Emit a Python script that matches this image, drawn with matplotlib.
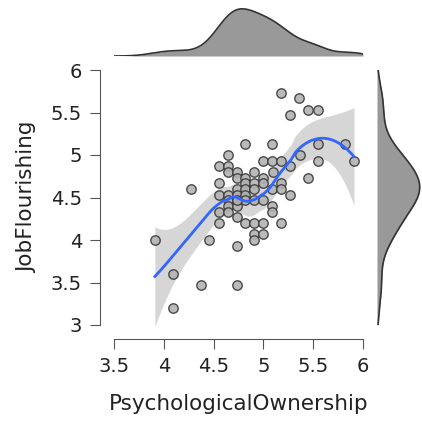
import numpy as np
import matplotlib
matplotlib.use('Agg')
import matplotlib.pyplot as plt

# scatter data
po = [5.18, 5.36, 5.27, 5.45, 5.55, 4.82, 5.09, 5.55, 5.82, 4.64,
      5.37, 5.00, 5.09, 5.18, 5.55, 5.91, 4.55, 4.64, 5.27, 4.64,
      4.73, 4.91, 5.10, 4.73, 4.82, 5.00, 5.45, 4.27, 4.55, 4.82,
      4.91, 5.00, 5.18, 4.73, 4.82, 5.09, 5.18, 5.27, 4.55, 4.64,
      4.73, 4.82, 4.91, 4.64, 4.82, 4.91, 5.00, 4.64, 4.73, 5.09,
      4.55, 4.64, 5.09, 4.73, 4.55, 4.82, 4.91, 5.00, 5.18, 4.91,
      5.00, 4.91, 3.91, 4.45, 4.73, 4.09, 4.37, 4.73, 4.09, 4.73]
jf = [5.73, 5.67, 5.47, 5.53, 5.53, 5.13, 5.13, 5.13, 5.13, 5.00,
      5.00, 4.93, 4.93, 4.93, 4.93, 4.93, 4.87, 4.87, 4.87, 4.80,
      4.80, 4.80, 4.80, 4.73, 4.73, 4.73, 4.73, 4.60, 4.67, 4.67,
      4.67, 4.67, 4.67, 4.60, 4.60, 4.60, 4.60, 4.53, 4.53, 4.53,
      4.53, 4.53, 4.60, 4.47, 4.47, 4.47, 4.47, 4.40, 4.40, 4.40,
      4.33, 4.33, 4.33, 4.27, 4.20, 4.20, 4.20, 4.20, 4.20, 4.07,
      4.07, 4.00, 4.00, 4.00, 3.93, 3.60, 3.47, 3.47, 3.20, 4.47]

x_ticks = [3.5, 4, 4.5, 5, 5.5, 6]
y_ticks = [3, 3.5, 4, 4.5, 5, 5.5, 6]
x_label = 'PsychologicalOwnership'
y_label = 'JobFlourishing'

x = np.array(po)
y = np.array(jf)


def loess(x, y, xg, span=0.75):
    n = len(x)
    q = int(np.floor(span * n))

    def weights_row(x0):
        d = np.abs(x - x0)
        h = np.sort(d)[q - 1]
        w = np.clip(1 - (d / h) ** 3, 0, None) ** 3
        X = np.column_stack([np.ones(n), x - x0, (x - x0) ** 2])
        XtW = X.T * w
        return np.linalg.pinv(XtW @ X)[0] @ XtW

    L = np.array([weights_row(v) for v in x])
    res = y - L @ y
    M = np.eye(n) - L
    delta1 = np.trace(M.T @ M)
    sigma = np.sqrt(np.sum(res ** 2) / delta1)
    Lg = np.array([weights_row(v) for v in xg])
    fit = Lg @ y
    se = sigma * np.sqrt(np.sum(Lg ** 2, axis=1))
    return fit, se


def kde(v, grid, adjust=1.0):
    v = np.asarray(v)
    sd = v.std(ddof=1)
    iqr = np.subtract(*np.percentile(v, [75, 25]))
    bw = adjust * 0.9 * min(sd, iqr / 1.34) * len(v) ** -0.2
    z = (grid[:, None] - v[None, :]) / bw
    return np.exp(-0.5 * z ** 2).sum(axis=1) / (len(v) * bw * np.sqrt(2 * np.pi))


fig = plt.figure(figsize=(4.22, 4.25), dpi=100)
W, H = 422, 425

ax = fig.add_axes([114 / W, 1 - 325 / H, 249 / W, 255 / H])
xg = np.linspace(x.min(), x.max(), 200)
fit, se = loess(x, y, xg)
ax.fill_between(xg, fit - 2.0 * se, fit + 2.0 * se, color='#d6d6d6', lw=0, zorder=1)
ax.scatter(x, y, s=46, facecolor='#b3b3b3', edgecolor='#3a3a3a', linewidth=1.0,
           alpha=0.9, zorder=2)
ax.plot(xg, fit, color='#3366ff', lw=2, zorder=3)

ax.set_xlim(3.5, 6)
ax.set_ylim(3, 6)
ax.set_xticks(x_ticks)
ax.set_xticklabels(['3.5', '4', '4.5', '5', '5.5', '6'])
ax.set_yticks(y_ticks)
ax.set_yticklabels(['3', '3.5', '4', '4.5', '5', '5.5', '6'])
for s in ['top', 'right']:
    ax.spines[s].set_visible(False)
ax.spines['left'].set_position(('outward', 10))
ax.spines['bottom'].set_position(('outward', 10))
for s in ['left', 'bottom']:
    ax.spines[s].set_color('#555555')
    ax.spines[s].set_linewidth(0.8)
ax.tick_params(colors='#555555', labelcolor='#222222', labelsize=14,
               length=7, width=0.8, pad=6)
ax.set_xlabel(x_label, fontsize=15.5, color='#222222', labelpad=13)
ax.set_ylabel(y_label, fontsize=15.5, color='#222222', labelpad=10)

# top marginal density
axt = fig.add_axes([114 / W, 1 - 56 / H, 249 / W, 50 / H])
gx = np.linspace(3.5, 6, 300)
dx = kde(x, gx, adjust=1.05)
axt.fill_between(gx, 0, dx, color='#999999', lw=0)
axt.plot(gx, dx, color='#333333', lw=1.2)
axt.set_xlim(3.5, 6)
axt.set_ylim(0, dx.max() * 1.06)
axt.axis('off')

# right marginal density
axr = fig.add_axes([377 / W, 1 - 325 / H, 44 / W, 255 / H])
gy = np.linspace(3, 6, 300)
dy = kde(y, gy, adjust=1.35)
axr.fill_betweenx(gy, 0, dy, color='#999999', lw=0)
axr.plot(dy, gy, color='#333333', lw=1.2)
axr.set_ylim(3, 6)
axr.set_xlim(0, dy.max() * 1.03)
axr.axis('off')

fig.savefig('out.png', dpi=100)
